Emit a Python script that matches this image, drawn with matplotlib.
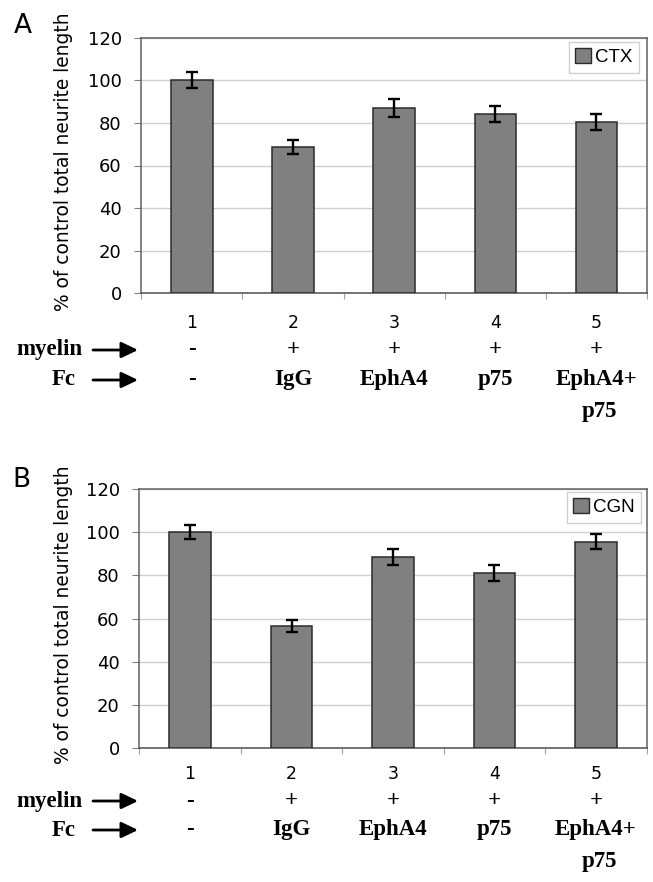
import matplotlib
matplotlib.use("Agg")
import matplotlib.pyplot as plt
from matplotlib.patches import Patch, FancyArrowPatch

W, H = 653, 882

categories = ["1", "2", "3", "4", "5"]
myelin_row = ["-", "+", "+", "+", "+"]
fc_row = ["-", "IgG", "EphA4", "p75", "EphA4+"]
fc_row2 = ["", "", "", "", "p75"]

ctx_values = [100, 68.5, 87, 84, 80.5]
ctx_errors = [3.8, 3.3, 4.0, 3.8, 3.8]
cgn_values = [100, 56.5, 88.5, 81.2, 95.7]
cgn_errors = [3.3, 2.6, 3.6, 3.6, 3.6]

yticks = [0, 20, 40, 60, 80, 100, 120]

panels = [
    dict(letter="A", legend="CTX", values=ctx_values, errors=ctx_errors,
         box=(141.3, 37.7, 647.0, 293.3), rows=(323, 350, 380, 412), letter_xy=(23, 26),
         leg=(639, 41.7)),
    dict(letter="B", legend="CGN", values=cgn_values, errors=cgn_errors,
         box=(139.3, 489.3, 646.7, 747.7), rows=(774, 801, 830, 862), letter_xy=(21, 480),
         leg=(641, 491.7)),
]

fig = plt.figure(figsize=(W / 100, H / 100), dpi=100)
fig.patch.set_facecolor("white")

def fx(x):
    return x / W

def fy(y):
    return 1 - y / H

bar_color = "#808080"
edge_color = "#2b2b2b"
serif_bold = dict(family="Liberation Serif", weight="bold", fontsize=16.5)

for p in panels:
    x0, y0, x1, y1 = p["box"]
    ax = fig.add_axes([fx(x0), fy(y1), (x1 - x0) / W, (y1 - y0) / H])
    xs = list(range(len(categories)))
    ax.bar(xs, p["values"], width=0.41, color=bar_color, edgecolor=edge_color,
           linewidth=1.1, zorder=3, label=p["legend"])
    ax.errorbar(xs, p["values"], yerr=p["errors"], fmt="none", ecolor="black",
                elinewidth=1.7, capsize=4.3, capthick=1.7, zorder=4)
    ax.set_xlim(-0.5, len(categories) - 0.5)
    ax.set_ylim(0, 120)
    ax.set_yticks(yticks)
    ax.set_yticklabels([str(t) for t in yticks], fontsize=13, family="DejaVu Sans")
    ax.tick_params(axis="y", length=5, width=0.8, color="#808080", pad=9, direction="out")
    ax.yaxis.grid(True, color="#cfcfcf", linewidth=1.0, zorder=0)
    ax.set_axisbelow(True)
    ax.set_xticks([i + 0.5 for i in range(-1, len(categories))])
    ax.set_xticklabels([])
    ax.tick_params(axis="x", length=4, width=0.8, color="#a0a0a0", direction="out")
    for s in ax.spines.values():
        s.set_color("#606060")
        s.set_linewidth(1.1)
    ax.spines["bottom"].set_color("#505050")

    r1, r2, r3, r4 = p["rows"]
    for i, c in enumerate(categories):
        cx = x0 + (i + 0.5) * (x1 - x0) / len(categories)
        fig.text(fx(cx), fy(r1), c, ha="center", va="center", fontsize=12.5,
                 family="DejaVu Sans")
        fig.text(fx(cx), fy(r2), myelin_row[i], ha="center", va="center", **serif_bold)
        fig.text(fx(cx), fy(r3), fc_row[i], ha="center", va="center", **serif_bold)
        if fc_row2[i]:
            fig.text(fx(cx + 3), fy(r4), fc_row2[i], ha="center", va="center", **serif_bold)

    fig.text(fx(82.5), fy(r2), "myelin", ha="right", va="center", **serif_bold)
    fig.text(fx(76), fy(r3), "Fc", ha="right", va="center", **serif_bold)
    for ya in (r2, r3):
        fig.add_artist(FancyArrowPatch(
            (fx(93), fy(ya)), (fx(138), fy(ya)), transform=fig.transFigure,
            arrowstyle="-|>,head_length=1.0,head_width=0.48", mutation_scale=10,
            color="black", linewidth=2.0, shrinkA=0, shrinkB=0))

    fig.text(fx(63.5), fy((y0 + y1) / 2 - 4), "% of control total neurite length",
             rotation=90, ha="center", va="center", fontsize=13.4, family="DejaVu Sans")
    fig.text(fx(p["letter_xy"][0]), fy(p["letter_xy"][1]), p["letter"], ha="center",
             va="center", fontsize=19, family="DejaVu Sans")

    lx, ly = p["leg"]
    leg = ax.legend(handles=[Patch(facecolor=bar_color, edgecolor=edge_color, linewidth=1.0)],
                    labels=[p["legend"]], loc="upper right",
                    bbox_to_anchor=((lx - x0) / (x1 - x0), 1 - (ly - y0) / (y1 - y0)),
                    borderaxespad=0, fancybox=False, framealpha=1, edgecolor="#d0d0d0",
                    handlelength=0.85, handleheight=0.85, handletextpad=0.2,
                    borderpad=0.35, prop=dict(family="Liberation Sans", size=13.5))
    leg.get_frame().set_linewidth(1.0)

fig.savefig("out.png", dpi=100, facecolor="white")
